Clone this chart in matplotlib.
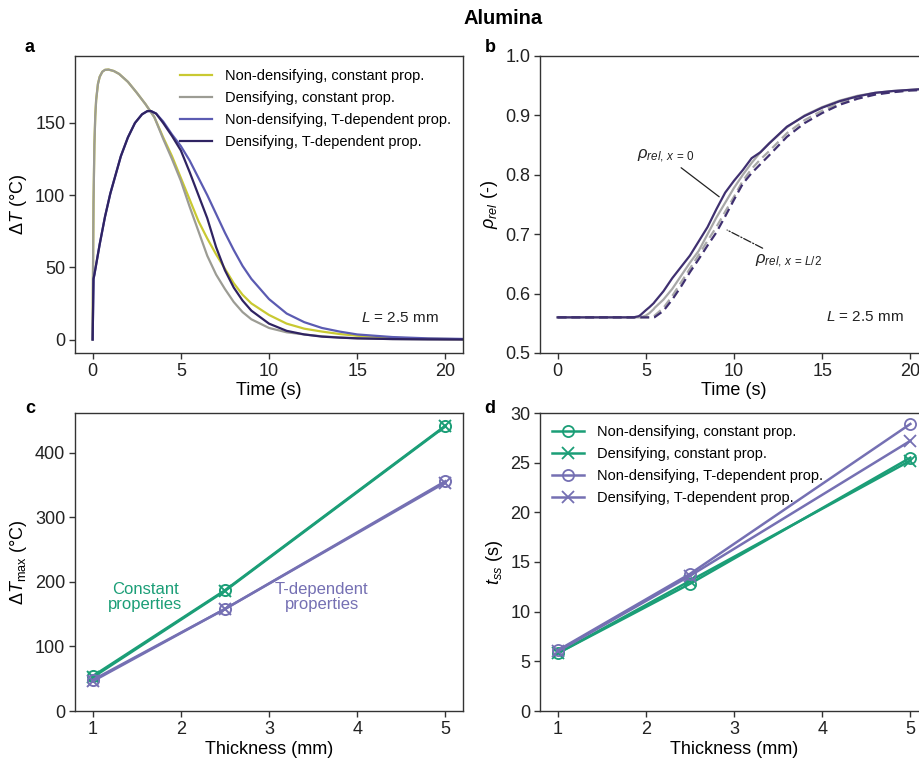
import matplotlib
matplotlib.use("Agg")
import matplotlib.pyplot as plt

plt.rcParams['font.family'] = ['Liberation Sans', 'DejaVu Sans']
plt.rcParams['mathtext.fontset'] = 'custom'
plt.rcParams['mathtext.rm'] = 'Liberation Sans'
plt.rcParams['mathtext.it'] = 'Liberation Sans:italic'
plt.rcParams['mathtext.bf'] = 'Liberation Sans:bold'
plt.rcParams['axes.linewidth'] = 1.0
plt.rcParams['axes.edgecolor'] = '#333333'
plt.rcParams['xtick.color'] = '#333333'
plt.rcParams['ytick.color'] = '#333333'
plt.rcParams['xtick.labelcolor'] = '#222222'
plt.rcParams['ytick.labelcolor'] = '#222222'

# ---------------- Panel a data ----------------
t_const = [0, 0.02, 0.05, 0.1, 0.15, 0.2, 0.3, 0.4, 0.55, 0.7, 0.9, 1.2, 1.5, 2.0, 2.5, 3.0, 3.5,
           4.0, 4.5, 5.0, 5.5, 6.0, 6.5, 7.0, 7.5, 8.0, 8.5, 9.0, 10, 11, 12, 13, 14, 15, 17, 19, 21]
dT_nondens_const = [0, 45, 95, 135, 155, 166, 177, 182, 185.5, 186.8, 187, 186, 184, 178.5, 171, 163, 154,
                    140, 127, 112, 97, 82, 70, 59, 49, 39, 31, 25, 17, 11, 7.5, 5.5, 3.8, 2.6, 1.2, 0.5, 0.2]
dT_dens_const = [0, 45, 95, 135, 155, 166, 177, 182, 185.5, 186.8, 187, 186, 184, 178.5, 171, 163, 154,
                 139, 125, 110, 92, 75, 58, 45, 35, 26, 19, 14, 8, 5, 3.5, 2.2, 1.4, 0.8, 0.3, 0.1, 0]

t_tdep = [0, 0.05, 0.1, 0.2, 0.4, 0.7, 1.0, 1.3, 1.6, 2.0, 2.4, 2.8, 3.1, 3.3, 3.6, 4.0, 4.5, 5.0, 5.5,
          6.0, 6.5, 7.0, 7.5, 8.0, 8.5, 9.0, 10, 11, 12, 13, 14, 15, 17, 19, 21]
dT_nondens_tdep = [0, 42, 45, 52, 66, 85, 101, 114, 127, 140, 150, 156, 158.2, 158.3, 156.5, 151, 142,
                   134, 124, 112, 100, 87, 74, 62, 51, 42, 28, 18, 12, 8, 5.5, 3.5, 1.7, 0.8, 0.4]
dT_dens_tdep = [0, 42, 45, 52, 66, 85, 101, 114, 127, 140, 150, 156, 158.2, 158.3, 156.5, 150, 141,
                131, 116, 100, 84, 64, 48, 36, 27, 20, 11, 6, 3.5, 2, 1.3, 0.8, 0.3, 0.1, 0]

legend_a = ['Non-densifying, constant prop.', 'Densifying, constant prop.',
            'Non-densifying, T-dependent prop.', 'Densifying, T-dependent prop.']

# ---------------- Panel b data ----------------
t_b = [0, 4.3, 4.6, 4.7, 5.0, 5.2, 5.45, 5.5, 6.0, 6.5, 7.0, 7.5, 8.0, 8.5, 9.0, 9.5, 10.0, 10.5,
       11.0, 11.5, 12.0, 13, 14, 15, 16, 17, 18, 19, 20, 21]
rho_x0_tdep = [0.56, 0.56, 0.562, 0.564, 0.572, 0.577, 0.584, 0.586, 0.604, 0.626, 0.645, 0.664, 0.688,
               0.712, 0.742, 0.770, 0.790, 0.808, 0.828, 0.838, 0.853, 0.881, 0.899, 0.913, 0.924,
               0.932, 0.938, 0.941, 0.943, 0.945]
rho_x0_const = [0.56, 0.56, 0.56, 0.56, 0.563, 0.567, 0.574, 0.576, 0.590, 0.608, 0.630, 0.652, 0.672,
                0.700, 0.728, 0.753, 0.778, 0.800, 0.820, 0.838, 0.853, 0.880, 0.900, 0.914, 0.925,
                0.933, 0.938, 0.941, 0.943, 0.945]
rho_xL2_const = [0.56, 0.56, 0.56, 0.56, 0.56, 0.56, 0.562, 0.563, 0.576, 0.596, 0.619, 0.642, 0.665,
                 0.689, 0.712, 0.738, 0.763, 0.790, 0.810, 0.826, 0.840, 0.870, 0.892, 0.908, 0.921,
                 0.930, 0.936, 0.940, 0.942, 0.944]
rho_xL2_tdep = [0.56, 0.56, 0.56, 0.56, 0.56, 0.56, 0.56, 0.5603, 0.571, 0.590, 0.612, 0.636, 0.658,
                0.681, 0.703, 0.730, 0.758, 0.785, 0.803, 0.818, 0.833, 0.864, 0.887, 0.904, 0.918,
                0.928, 0.935, 0.939, 0.942, 0.943]

# ---------------- Panels c, d data ----------------
thickness = [1, 2.5, 5]
dTmax_nondens_const = [54, 187, 442]
dTmax_dens_const = [52, 186, 441]
dTmax_nondens_tdep = [48, 158, 356]
dTmax_dens_tdep = [46, 158, 354]

tss_nondens_const = [5.8, 12.8, 25.5]
tss_dens_const = [5.8, 13.1, 25.2]
tss_nondens_tdep = [6.1, 13.8, 28.9]
tss_dens_tdep = [6.0, 13.6, 27.2]

legend_d = legend_a

# colours
c_yel = '#c9c932'
c_gray = '#9c9c94'
c_blue = '#5b5bb2'
c_navy = '#2f2362'
b_navy = '#3f3070'
b_gray = '#a8a8a8'
green = '#1b9e77'
purple = '#7570b3'

fig = plt.figure(figsize=(9.2, 7.62), dpi=100)
W, H = 920, 762


def place(left, top, right, bottom):
    return [left / W, 1 - bottom / H, (right - left) / W, (bottom - top) / H]


axa = fig.add_axes(place(75, 56, 463, 353))
axb = fig.add_axes(place(540, 56, 928, 353))
axc = fig.add_axes(place(75, 413, 463, 711))
axd = fig.add_axes(place(540, 413, 928, 711))

for ax in (axa, axb, axc, axd):
    ax.tick_params(labelsize=13, length=4, width=1, direction='out', pad=3)

LBL = 13

# ---- a ----
axa.plot(t_const, dT_nondens_const, color=c_yel, lw=1.6, label=legend_a[0])
axa.plot(t_const, dT_dens_const, color=c_gray, lw=1.6, label=legend_a[1])
axa.plot(t_tdep, dT_nondens_tdep, color=c_blue, lw=1.6, label=legend_a[2])
axa.plot(t_tdep, dT_dens_tdep, color=c_navy, lw=1.6, label=legend_a[3])
axa.set_xlim(-1, 21)
axa.set_ylim(-9.35, 196.4)
axa.set_xticks([0, 5, 10, 15, 20])
axa.set_yticks([0, 50, 100, 150])
axa.set_xlabel('Time (s)', fontsize=LBL, labelpad=2)
axa.set_ylabel(r'$\Delta T$ (°C)', fontsize=LBL, labelpad=4)
axa.legend(loc='upper right', frameon=False, fontsize=10.5, handlelength=2.2,
           handletextpad=0.9, labelspacing=0.55, borderaxespad=0.4, bbox_to_anchor=(1.0, 0.995))
axa.text(19.6, 15, r'$L$ = 2.5 mm', fontsize=11, ha='right', va='center', color='#222222')

# ---- b ----
axb.plot(t_b, rho_x0_const, color=b_gray, lw=1.6)
axb.plot(t_b, rho_xL2_const, color=b_gray, lw=1.6, ls=(0, (4, 2.2)))
axb.plot(t_b, rho_x0_tdep, color=b_navy, lw=1.6)
axb.plot(t_b, rho_xL2_tdep, color=b_navy, lw=1.6, ls=(0, (4, 2.2)))
axb.set_xlim(-1, 21)
axb.set_ylim(0.5, 1.0)
axb.set_xticks([0, 5, 10, 15, 20])
axb.set_yticks([0.5, 0.6, 0.7, 0.8, 0.9, 1.0])
axb.set_yticklabels(['0.5', '0.6', '0.7', '0.8', '0.9', '1.0'])
axb.set_xlabel('Time (s)', fontsize=LBL, labelpad=2)
axb.set_ylabel(r'$\rho_{rel}$ (-)', fontsize=LBL, labelpad=4)
axb.spines['right'].set_visible(False)
axb.annotate(r'$\rho_{rel,\,x\,=\,0}$', xy=(9.16, 0.763), xytext=(7.78, 0.8166),
             fontsize=12, ha='right', va='bottom', color='#222222',
             arrowprops=dict(arrowstyle='-', color='#222222', lw=0.9, shrinkA=0, shrinkB=0))
axb.annotate(r'$\rho_{rel,\,x\,=\,L/2}$', xy=(9.61, 0.707), xytext=(11.2, 0.654),
             fontsize=12, ha='left', va='center', color='#222222',
             arrowprops=dict(arrowstyle='-', color='#222222', lw=0.9, ls='-.', shrinkA=3, shrinkB=0))
axb.text(19.6, 0.5605, r'$L$ = 2.5 mm', fontsize=11, ha='right', va='center', color='#222222')

# ---- c ----
MS = 8
axc.plot(thickness, dTmax_nondens_const, color=green, lw=1.8, marker='o', mfc='none', ms=MS, mew=1.4)
axc.plot(thickness, dTmax_dens_const, color=green, lw=1.8, marker='x', ms=MS, mew=1.4)
axc.plot(thickness, dTmax_nondens_tdep, color=purple, lw=1.8, marker='o', mfc='none', ms=MS, mew=1.4)
axc.plot(thickness, dTmax_dens_tdep, color=purple, lw=1.8, marker='x', ms=MS, mew=1.4)
axc.set_xlim(0.8, 5.2)
axc.set_ylim(0, 461.7)
axc.set_xticks([1, 2, 3, 4, 5])
axc.set_yticks([0, 100, 200, 300, 400])
axc.set_xlabel('Thickness (mm)', fontsize=LBL, labelpad=2)
axc.set_ylabel(r'$\Delta T_{\mathrm{max}}$ (°C)', fontsize=LBL, labelpad=4)
axc.text(1.6, 176.7, 'Constant\nproperties', color=green, fontsize=12, ha='center', va='center',
         linespacing=1.05)
axc.text(3.6, 176.7, 'T-dependent\nproperties', color=purple, fontsize=12, ha='center', va='center',
         linespacing=1.05)

# ---- d ----
axd.plot(thickness, tss_nondens_const, color=green, lw=1.8, marker='o', mfc='none', ms=MS, mew=1.3,
         label=legend_d[0])
axd.plot(thickness, tss_dens_const, color=green, lw=1.8, marker='x', ms=MS, mew=1.3,
         label=legend_d[1])
axd.plot(thickness, tss_nondens_tdep, color=purple, lw=1.8, marker='o', mfc='none', ms=MS, mew=1.3,
         label=legend_d[2])
axd.plot(thickness, tss_dens_tdep, color=purple, lw=1.8, marker='x', ms=MS, mew=1.3,
         label=legend_d[3])
axd.set_xlim(0.8, 5.2)
axd.set_ylim(0, 30)
axd.set_xticks([1, 2, 3, 4, 5])
axd.set_yticks([0, 5, 10, 15, 20, 25, 30])
axd.set_xlabel('Thickness (mm)', fontsize=LBL, labelpad=2)
axd.set_ylabel(r'$t_{ss}$ (s)', fontsize=LBL, labelpad=4)
axd.spines['right'].set_visible(False)
axd.legend(loc='upper left', frameon=False, fontsize=10.5, handlelength=2.2,
           handletextpad=0.9, labelspacing=0.55, borderaxespad=0.4)

# panel letters and title
for lab, x, y in [('a', 30, 48), ('b', 490, 48), ('c', 30, 408), ('d', 490, 408)]:
    fig.text(x / W, 1 - y / H, lab, fontsize=13, fontweight='bold', ha='center', va='center')
fig.text(503 / W, 1 - 18 / H, 'Alumina', fontsize=14.5, fontweight='bold', ha='center', va='center')

fig.savefig('out.png', dpi=100)
